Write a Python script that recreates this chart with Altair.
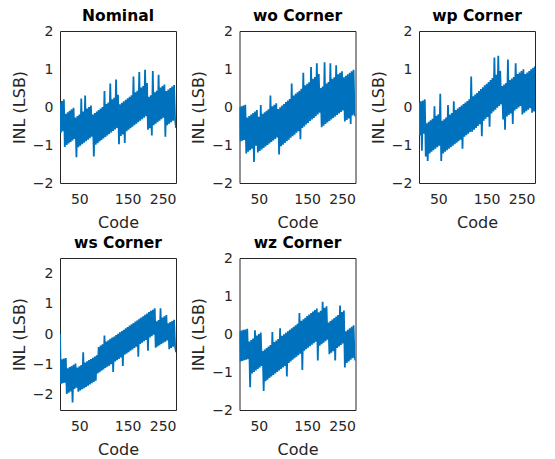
import altair as alt
import pandas as pd

codes = list(range(10, 251, 2))

nominal = [0.12, -0.68, 0.16, -0.64, 0.20, -1.05, -0.18, -1.00, -0.14, -0.96,
           -0.10, -0.92, -0.06, -0.88, -0.02, -0.84, -0.28, -1.32, -0.24, -1.06,
           -0.20, -1.02, 0.22, -0.98, -0.12, -0.94, 0.30, -0.90, -0.04, -0.86,
           0.00, -0.82, 0.04, -0.78, -0.20, -1.30, -0.16, -0.99, -0.12, -0.95,
           -0.08, -0.91, -0.04, -0.87, 0.00, -0.83, 0.42, -0.79, 0.08, -0.75,
           0.12, -0.71, 0.62, -0.67, 0.20, -0.63, 0.24, -0.59, 0.72, -0.55,
           0.32, -0.98, 0.07, -0.76, 0.11, -0.72, 0.15, -0.95, 0.19, -0.64,
           0.23, -0.60, 0.27, -0.56, 0.31, -0.52, 0.80, -0.48, 0.39, -0.44,
           0.43, -0.40, 0.92, -0.36, 0.51, -0.32, 0.55, -0.28, 0.98, -0.24,
           0.63, -0.60, 0.27, -0.56, 0.31, -0.75, 0.95, -0.48, 0.39, -0.44,
           0.43, -0.40, 0.85, -0.36, 0.51, -0.32, 0.55, -0.28, 0.59, -0.78,
           0.42, -0.48, 0.46, -0.44, 0.50, -0.40, 0.54, -0.36, 0.58, -0.32,
           -0.55]

wo = [0.00, -0.91, 0.02, -0.89, 0.04, -0.87, 0.06, -1.22, -0.28, -1.18,
      -0.24, -1.14, -0.20, -1.10, -0.16, -1.45, -0.12, -1.02, -0.08, -1.20,
      -0.26, -1.16, 0.05, -1.12, -0.18, -1.08, -0.14, -1.04, -0.10, -1.00,
      -0.06, -0.96, 0.30, -0.92, 0.02, -0.88, 0.06, -0.84, 0.10, -0.80,
      -0.05, -1.25, -0.01, -1.03, 0.04, -0.99, 0.08, -0.95, 0.13, -0.90,
      0.17, -0.86, 0.21, -0.81, 0.62, -0.77, 0.30, -0.73, 0.35, -0.68,
      0.39, -0.64, 0.43, -0.85, 0.48, -0.55, 0.90, -0.51, 0.57, -0.46,
      0.61, -0.42, 0.65, -0.37, 1.05, -0.33, 0.74, -0.29, 0.79, -0.24,
      1.15, -0.20, 0.87, -0.15, 0.50, -0.53, 0.54, -0.49, 1.18, -0.45,
      0.62, -0.41, 0.66, -0.37, 1.15, -0.33, 0.74, -0.29, 0.78, -0.25,
      1.10, -0.21, 0.86, -0.17, 0.90, -0.13, 0.94, -0.09, 0.78, -0.38,
      0.82, -0.34, 0.86, -0.30, 0.90, -0.45, 0.94, -0.22, 0.98, -0.18,
      -0.25]

wp = [0.12, -0.75, 0.15, -1.15, 0.17, -0.70, 0.20, -1.30, -0.43, -1.42,
      -0.39, -1.22, -0.35, -1.18, -0.31, -1.14, 0.02, -1.10, -0.23, -1.06,
      -0.19, -1.02, 0.35, -1.42, -0.36, -1.22, -0.32, -1.18, -0.28, -1.14,
      0.05, -1.10, -0.20, -1.06, -0.16, -1.02, 0.15, -0.98, -0.08, -0.94,
      -0.04, -0.90, 0.00, -0.86, 0.04, -1.10, 0.08, -0.78, 0.12, -0.74,
      0.16, -0.70, 0.20, -0.66, 0.80, -0.65, 0.28, -0.60, 0.33, -0.55,
      0.37, -0.50, 0.42, -0.45, 0.47, -0.77, 0.52, -0.36, 0.57, -0.31,
      0.61, -0.26, 0.66, -0.52, 0.71, -0.17, 0.76, -0.12, 1.30, -0.07,
      0.85, -0.02, 1.35, 0.03, 0.95, 0.07, 0.55, -0.33, 0.59, -0.60,
      0.63, -0.25, 1.25, -0.21, 0.71, -0.17, 0.75, -0.45, 0.79, -0.09,
      1.15, -0.05, 0.87, -0.01, 0.91, 0.03, 0.95, -0.20, 0.99, -0.15,
      0.87, -0.11, 0.91, -0.07, 0.95, -0.03, 0.99, -0.15, 1.03, -0.12,
      1.07]

ws = [0.00, -1.64, -0.83, -1.62, -0.81, -1.60, -0.79, -1.97, -1.13, -1.93,
      -1.09, -1.89, -1.05, -2.25, -1.01, -1.81, -0.97, -1.77, -1.10, -1.90,
      -1.06, -1.86, -1.02, -1.82, -0.60, -1.78, -0.94, -1.74, -0.90, -1.70,
      -0.86, -1.66, -0.82, -1.62, -0.78, -1.58, -0.74, -1.54, -0.70, -1.30,
      -0.43, -1.26, -0.38, -1.21, -0.34, -1.17, -0.05, -1.12, -0.25, -1.08,
      -0.21, -1.04, -0.16, -0.99, -0.12, -1.25, -0.08, -0.90, -0.03, -0.86,
      0.01, -0.82, 0.06, -0.77, 0.10, -1.05, 0.14, -0.68, 0.19, -0.64,
      0.23, -0.60, 0.28, -0.55, 0.32, -0.51, 0.36, -0.46, 0.41, -0.42,
      0.45, -0.75, 0.50, -0.33, 0.54, -0.29, 0.58, -0.24, 0.63, -0.20,
      0.67, -0.55, 0.72, -0.11, 0.76, -0.07, 0.80, -0.02, 0.85, -0.45,
      0.42, -0.41, 0.46, -0.37, 0.85, -0.33, 0.54, -0.29, 0.58, -0.25,
      0.62, -0.21, 0.35, -0.50, 0.39, -0.46, 0.43, -0.42, 0.47, -0.38,
      -0.60]

wz = [0.08, -0.72, 0.09, -0.71, 0.11, -0.69, 0.12, -0.68, 0.14, -0.66,
      -0.20, -1.40, -0.16, -1.04, -0.12, -1.00, 0.10, -0.96, -0.04, -0.92,
      0.00, -0.88, 0.04, -0.84, -0.45, -1.50, -0.41, -1.24, -0.37, -1.20,
      -0.33, -1.16, -0.29, -1.12, 0.05, -1.08, -0.21, -1.04, -0.17, -1.00,
      -0.13, -0.96, 0.15, -0.92, -0.05, -0.88, -0.01, -0.84, 0.03, -1.12,
      0.07, -0.76, 0.11, -0.72, 0.15, -0.68, 0.19, -0.64, 0.23, -0.60,
      0.27, -0.56, 0.55, -0.52, 0.35, -0.95, 0.39, -0.44, 0.43, -0.40,
      0.47, -0.36, 0.51, -0.32, 0.55, -0.28, 0.59, -0.24, 0.63, -0.20,
      0.67, -0.70, 0.57, -0.31, 0.61, -0.27, 0.85, -0.23, 0.69, -0.19,
      0.73, -0.15, 0.30, -0.53, 0.34, -0.49, 0.38, -0.45, 0.42, -0.70,
      0.46, -0.37, 0.50, -0.33, 0.75, -0.29, 0.58, -0.25, 0.62, -0.88,
      0.07, -0.76, 0.11, -0.72, 0.15, -0.68, 0.19, -0.64, 0.23, -0.60,
      -0.70]

titles = ["Nominal", "wo Corner", "wp Corner", "ws Corner", "wz Corner"]
series = [nominal, wo, wp, ws, wz]
y_domains = [[-2, 2], [-2, 2], [-2, 2], [-2.5, 2.5], [-2, 2]]
title_offsets = [0, 0, 0, 7, 0]
x_ticks = [50, 150, 250]
y_ticks = [-2, -1, 0, 1, 2]

FONT = "DejaVu Sans"


def panel(title, vals, ydom, toff):
    df = pd.DataFrame({"Code": codes, "INL": vals})
    return (
        alt.Chart(df, title=alt.TitleParams(title, fontSize=15.5, fontWeight="bold",
                                            font=FONT, color="#000000", offset=toff,
                                            anchor="middle"))
        .mark_line(color="#0072BD", strokeWidth=1.8, clip=True)
        .encode(
            x=alt.X("Code:Q",
                    scale=alt.Scale(domain=[10, 250], nice=False, zero=False),
                    axis=alt.Axis(values=x_ticks, title="Code", labelPadding=9,
                                  titlePadding=8)),
            y=alt.Y("INL:Q",
                    scale=alt.Scale(domain=ydom, nice=False, zero=False),
                    axis=alt.Axis(values=y_ticks, title="INL (LSB)", labelPadding=7,
                                  titlePadding=5)),
        )
        .properties(width=116, height=152)
    )


panels = [panel(t, s, d, o) for t, s, d, o in zip(titles, series, y_domains, title_offsets)]

top = alt.hconcat(panels[0], panels[1], panels[2], spacing=12.5)
bottom = alt.hconcat(panels[3], panels[4], spacing=12.5)

chart = (
    alt.vconcat(top, bottom, spacing=4)
    .properties(padding={"left": 2, "top": 0, "right": 5, "bottom": 5})
    .configure_view(stroke="#262626", strokeWidth=1)
    .configure_axis(
        domain=False, ticks=False, grid=False,
        labelFont=FONT, labelFontSize=14, labelColor="#262626",
        titleFont=FONT, titleFontSize=16, titleFontWeight="normal", titleColor="#262626",
    )
)

chart.save("out.html", embed_options={"renderer": "svg", "actions": False})
